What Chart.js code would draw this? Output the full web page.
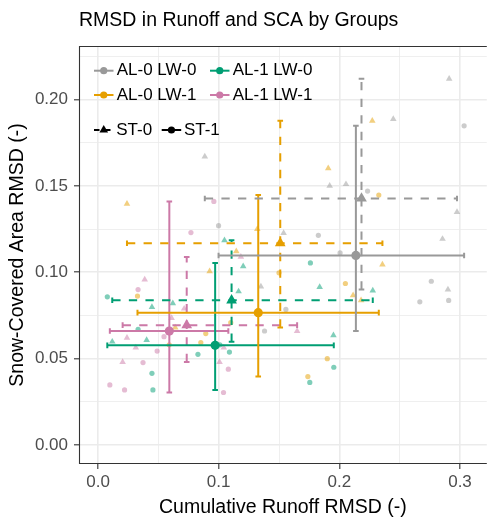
<!DOCTYPE html>
<html>
<head>
<meta charset="utf-8">
<title>RMSD in Runoff and SCA by Groups</title>
<script src="https://cdn.jsdelivr.net/npm/chart.js@4.4.0/dist/chart.umd.min.js"></script>
<style>
  html, body { margin: 0; padding: 0; background: #fff; }
  #wrap { width: 493px; height: 520px; }
</style>
</head>
<body>
<div id="wrap"><canvas id="rmsd" width="493" height="520"></canvas></div>
<script>
'use strict';

// model groups (albedo / longwave switches) and snow temperature variants
const groups = ['AL-0 LW-0', 'AL-0 LW-1', 'AL-1 LW-0', 'AL-1 LW-1'];
const stLabels = ['ST-0', 'ST-1'];

// individual runs: [cumulative runoff RMSD, snow-covered area RMSD]
const al0lw0St0 = [[0.0885, 0.167], [0.135, 0.0917], [0.291, 0.212], [0.2447, 0.1887], [0.192, 0.150],
                   [0.2055, 0.151], [0.2975, 0.1348], [0.1538, 0.1227], [0.2855, 0.1193], [0.290, 0.090]];
const al0lw0St1 = [[0.0999, 0.127], [0.3034, 0.1848], [0.2234, 0.147], [0.1826, 0.1214], [0.2006, 0.1112],
                   [0.2762, 0.0948], [0.2667, 0.0829], [0.2906, 0.0837], [0.1557, 0.0785], [0.138, 0.066]];
const al0lw1St0 = [[0.024, 0.1396], [0.2273, 0.1877], [0.1908, 0.1602], [0.132, 0.125], [0.1146, 0.1121],
                   [0.0925, 0.1006], [0.2357, 0.1044], [0.2114, 0.0867], [0.218, 0.0838], [0.064, 0.068]];
const al0lw1St1 = [[0.0327, 0.0862], [0.2327, 0.1447], [0.150, 0.0997], [0.205, 0.0935], [0.110, 0.0708],
                   [0.0893, 0.0645], [0.0852, 0.0593], [0.190, 0.050], [0.1739, 0.0396], [0.059, 0.058]];
const al1lw0St0 = [[0.1048, 0.1185], [0.1203, 0.1035], [0.1165, 0.0889], [0.1837, 0.0914], [0.2277, 0.0894],
                   [0.0447, 0.0798], [0.062, 0.082], [0.0118, 0.0598], [0.0403, 0.0608], [0.1951, 0.0635]];
const al1lw0St1 = [[0.0077, 0.0858], [0.176, 0.1054], [0.0332, 0.0669], [0.0828, 0.0525], [0.1089, 0.0538],
                   [0.0447, 0.0415], [0.0455, 0.0319], [0.1954, 0.045], [0.1755, 0.0362], [0.101, 0.058]];
const al1lw1St0 = [[0.0387, 0.0958], [0.1184, 0.1089], [0.0714, 0.0789], [0.024, 0.0621], [0.0313, 0.0564],
                   [0.1042, 0.0564], [0.0204, 0.048], [0.1007, 0.048], [0.165, 0.066], [0.061, 0.0735]];
const al1lw1St1 = [[0.0332, 0.090], [0.096, 0.141], [0.077, 0.123], [0.0547, 0.0627], [0.049, 0.0544],
                   [0.0373, 0.0477], [0.108, 0.0439], [0.0098, 0.0348], [0.022, 0.0319], [0.104, 0.0304]];

// labelled axis ticks
const xTicks = [0.0, 0.1, 0.2, 0.3];
const yTicks = [0.00, 0.05, 0.10, 0.15, 0.20];

// rows follow groups, columns follow stLabels
const members = [
    [al0lw0St0, al0lw0St1],
    [al0lw1St0, al0lw1St1],
    [al1lw0St0, al1lw0St1],
    [al1lw1St0, al1lw1St1]
];

const groupColors = ['#999999', '#E69F00', '#009E73', '#CC79A7'];
const stShapes = ['triangle', 'circle'];
const stDash = [[8.3, 8.3], []];
const FONT = '"Liberation Sans", Arial, Helvetica, sans-serif';

function fade(hex, a) {
    const n = parseInt(hex.slice(1), 16);
    return `rgba(${(n >> 16) & 255},${(n >> 8) & 255},${n & 255},${a})`;
}

// mean point plus min/max range of the runs
function summarize(pts) {
    const xs = pts.map(p => p[0]);
    const ys = pts.map(p => p[1]);
    const mean = a => a.reduce((s, v) => s + v, 0) / a.length;
    return {
        x: mean(xs), y: mean(ys),
        xMin: Math.min(...xs), xMax: Math.max(...xs),
        yMin: Math.min(...ys), yMax: Math.max(...ys)
    };
}

function isMajor(list, v) {
    return list.some(t => Math.abs(t - v) < 1e-9);
}

const datasets = [];

// faint individual runs (bottom layer)
members.forEach((pair, g) => {
    pair.forEach((pts, s) => {
        datasets.push({
            label: groups[g] + ' ' + stLabels[s],
            data: pts.map(p => ({ x: p[0], y: p[1] })),
            pointStyle: stShapes[s],
            pointRadius: s === 0 ? 3.8 : 2.6,
            backgroundColor: fade(groupColors[g], 0.5),
            borderWidth: 0,
            order: 3
        });
    });
});

// min-max error bars, dashed for ST-0
members.forEach((pair, g) => {
    pair.forEach((pts, s) => {
        const m = summarize(pts);
        const common = {
            showLine: true,
            borderColor: groupColors[g],
            borderWidth: 2,
            borderDash: stDash[s],
            pointStyle: 'line',
            pointRadius: 2.8,
            pointBorderColor: groupColors[g],
            pointBorderWidth: 2,
            order: 2
        };
        datasets.push(Object.assign({}, common, {
            data: [{ x: m.xMin, y: m.y }, { x: m.xMax, y: m.y }],
            pointRotation: 90
        }));
        datasets.push(Object.assign({}, common, {
            data: [{ x: m.x, y: m.yMin }, { x: m.x, y: m.yMax }],
            pointRotation: 0
        }));
    });
});

// group means on top
stLabels.forEach((st, s) => {
    datasets.push({
        label: st + ' mean',
        data: members.map(pair => {
            const m = summarize(pair[s]);
            return { x: m.x, y: m.y };
        }),
        pointStyle: stShapes[s],
        pointRadius: s === 0 ? 6.2 : 4.6,
        backgroundColor: groupColors,
        borderWidth: 0,
        order: 1
    });
});

// dark frame on left, top and bottom of the panel
const panelFrame = {
    id: 'panelFrame',
    afterDraw(chart) {
        const { ctx, chartArea: a } = chart;
        ctx.save();
        ctx.strokeStyle = '#333333';
        ctx.lineWidth = 1.1;
        ctx.beginPath();
        ctx.moveTo(a.right, a.top + 0.5);
        ctx.lineTo(a.left + 0.5, a.top + 0.5);
        ctx.lineTo(a.left + 0.5, a.bottom - 0.5);
        ctx.lineTo(a.right, a.bottom - 0.5);
        ctx.stroke();
        ctx.restore();
    }
};

function drawKey(ctx, x0, y, color, shape, dash) {
    ctx.save();
    ctx.strokeStyle = color;
    ctx.fillStyle = color;
    ctx.lineWidth = 2;
    ctx.setLineDash(dash);
    ctx.beginPath();
    ctx.moveTo(x0, y);
    ctx.lineTo(x0 + 19.5, y);
    ctx.stroke();
    ctx.setLineDash([]);
    Chart.helpers.drawPoint(ctx, {
        pointStyle: shape,
        radius: shape === 'triangle' ? 5 : 3.6,
        rotation: 0,
        borderWidth: 0
    }, x0 + 9.75, y);
    ctx.restore();
}

// legend inside the top-left corner of the panel
const insideLegend = {
    id: 'insideLegend',
    afterDatasetsDraw(chart) {
        const { ctx, chartArea: a } = chart;
        const rowY = [a.top + 24.7, a.top + 49, a.top + 84];
        const colX = [a.left + 15, a.left + 131];
        ctx.save();
        ctx.font = '17px ' + FONT;
        ctx.textBaseline = 'middle';
        ctx.textAlign = 'left';
        groups.forEach((g, i) => {
            const col = Math.floor(i / 2);
            const row = i % 2;
            drawKey(ctx, colX[col], rowY[row], groupColors[i], 'circle', []);
            ctx.fillStyle = '#000';
            ctx.fillText(g, colX[col] + 22.7, rowY[row]);
        });
        const stX = [a.left + 15, a.left + 82.7];
        stLabels.forEach((st, s) => {
            drawKey(ctx, stX[s], rowY[2], '#000', stShapes[s], s === 0 ? [5.5, 5.5] : []);
            ctx.fillStyle = '#000';
            ctx.fillText(st, stX[s] + 22.2, rowY[2]);
        });
        ctx.restore();
    }
};

function gridOpts(major) {
    return {
        color: '#EBEBEB',
        lineWidth: ctx => isMajor(major, ctx.tick.value) ? 1.6 : 0.8,
        drawTicks: true,
        tickLength: 5,
        tickWidth: 1.1,
        tickColor: ctx => isMajor(major, ctx.tick.value) ? '#333333' : 'rgba(0,0,0,0)'
    };
}

Chart.defaults.font.family = FONT;

new Chart(document.getElementById('rmsd'), {
    type: 'scatter',
    data: { datasets },
    options: {
        responsive: false,
        animation: false,
        events: [],
        devicePixelRatio: 1,
        layout: { padding: 0 },
        plugins: {
            legend: { display: false },
            tooltip: { enabled: false },
            title: {
                display: true,
                text: 'RMSD in Runoff and SCA by Groups',
                align: 'start',
                fullSize: false,
                color: '#000',
                font: { size: 19.5, weight: 'normal', lineHeight: 1.2 },
                padding: { top: 8.5, bottom: 14.1 }
            }
        },
        scales: {
            x: {
                type: 'linear',
                min: -0.01576,
                max: 0.3222,
                border: { display: false },
                grid: gridOpts(xTicks),
                ticks: {
                    stepSize: 0.05,
                    includeBounds: false,
                    autoSkip: false,
                    maxRotation: 0,
                    padding: 3,
                    color: '#4D4D4D',
                    font: { size: 17 },
                    callback: v => isMajor(xTicks, v) ? v.toFixed(1) : ''
                },
                title: {
                    display: true,
                    text: 'Cumulative Runoff RMSD (-)',
                    color: '#000',
                    font: { size: 19.5, lineHeight: 1.2 },
                    padding: { top: 0, bottom: 1.1 }
                },
                afterFit: scale => { scale.height = 56; }
            },
            y: {
                type: 'linear',
                min: -0.011,
                max: 0.231,
                border: { display: false },
                grid: gridOpts(yTicks),
                ticks: {
                    stepSize: 0.025,
                    includeBounds: false,
                    autoSkip: false,
                    padding: 6,
                    color: '#4D4D4D',
                    font: { size: 17 },
                    callback: v => isMajor(yTicks, v) ? v.toFixed(2) : ''
                },
                title: {
                    display: true,
                    text: 'Snow-Covered Area RMSD (-)',
                    color: '#000',
                    font: { size: 19.5, lineHeight: 1.2 },
                    padding: { top: 6, bottom: 0 }
                },
                afterFit: scale => { scale.width = 79; }
            }
        }
    },
    plugins: [panelFrame, insideLegend]
});
</script>
</body>
</html>
